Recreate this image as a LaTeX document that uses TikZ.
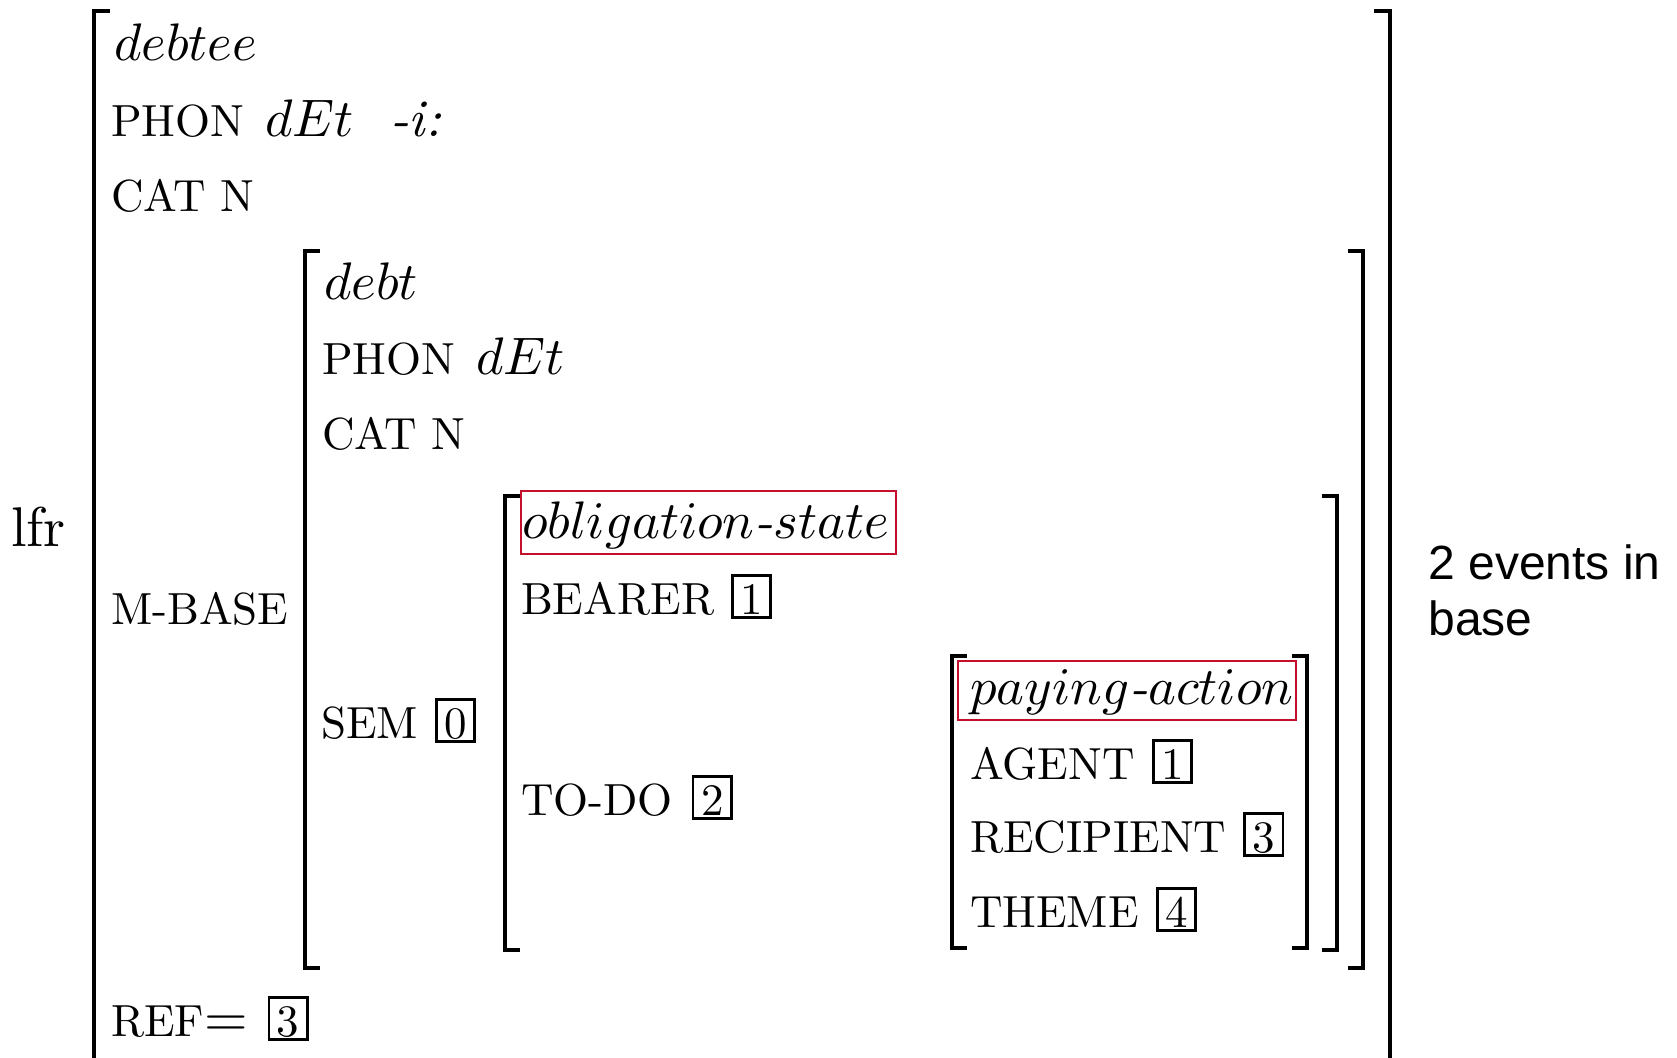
\documentclass[tikz,border=0pt]{standalone}
\usepackage{fontspec}
\usepackage{graphicx}
\newfontfamily\notefont{Liberation Sans}
\definecolor{boxred}{RGB}{196,16,44}
\newcommand\rmT[1]{\scalebox{2.25}{#1}}
\newcommand\itT[1]{\scalebox{2.64}{#1}}
\newcommand\tagb[1]{{\setlength\fboxrule{0.6pt}\setlength\fboxsep{0pt}\fbox{\kern1.45pt\rule[-0.55pt]{0pt}{8.75pt}#1\kern1.45pt}}}
\begin{document}
\begin{tikzpicture}[x=0.5pt,y=-0.5pt,
  txt/.style={anchor=base west,inner sep=0pt,outer sep=0pt},
  brk/.style={line width=1.8pt,line cap=butt,line join=miter},
  redbox/.style={draw=boxred,line width=1.4pt}]
\useasboundingbox (0,0) rectangle (1677,1057);
% brackets
\draw[brk] (110,11) -- (94,11) -- (94,1070);
\draw[brk] (1374,11) -- (1390,11) -- (1390,1070);
\draw[brk] (320,251) -- (305,251) -- (305,968) -- (320,968);
\draw[brk] (1348,251) -- (1363,251) -- (1363,968) -- (1348,968);
\draw[brk] (520,496) -- (505,496) -- (505,950) -- (520,950);
\draw[brk] (1322,496) -- (1337,496) -- (1337,950) -- (1322,950);
\draw[brk] (967,656) -- (952,656) -- (952,948) -- (967,948);
\draw[brk] (1292,656) -- (1307,656) -- (1307,948) -- (1292,948);
% red boxes
\draw[redbox] (521,491) rectangle (896,554);
\draw[redbox] (958,661) rectangle (1296,720);
% texts
\node[txt] (lfr) at (11,546) {\scalebox{2.8}{lfr}};
\node[txt] (debtee) at (114,60) {\itT{$debtee$}};
\node[txt] (phon1) at (111,136) {\rmT{PHON}};
\node[txt] (phon1v) at (265,136) {\itT{$dEt$}};
\node[txt] (phon1s) at (390,136) {\itT{\itshape -i:}};
\node[txt] (cat1) at (111,211) {\rmT{CAT N}};
\node[txt] (mbase) at (111,624) {\rmT{M-BASE}};
\node[txt] (ref) at (111,1036) {\rmT{REF}\scalebox{2.8}{$=$}\hspace{10pt}\rmT{\tagb{3}}};
\node[txt] (debt) at (324,299) {\itT{$debt$}};
\node[txt] (phon2) at (322,374) {\rmT{PHON}};
\node[txt] (phon2v) at (476,374) {\itT{$dEt$}};
\node[txt] (cat2) at (322,449) {\rmT{CAT N}};
\node[txt] (sem) at (321,738) {\rmT{SEM\hspace{3.8pt}\tagb{0}}};
\node[txt] (oblig) at (522,538) {\itT{$obligation$\textit{-}$state$}};
\node[txt] (bearer) at (521,614) {\rmT{BEARER\hspace{3.8pt}\tagb{1}}};
\node[txt] (todo) at (521,815) {\rmT{TO-DO\hspace{4.2pt}\tagb{2}}};
\node[txt] (paying) at (970,704) {\itT{$paying$\textit{-}$action$}};
\node[txt] (agent) at (970,779) {\rmT{AGENT\hspace{3.8pt}\tagb{1}}};
\node[txt] (recip) at (970,852) {\rmT{RECIPIENT\hspace{3.8pt}\tagb{3}}};
\node[txt] (theme) at (970,927) {\rmT{THEME\hspace{3.8pt}\tagb{4}}};
\node[anchor=base west,inner sep=0pt,align=left,font=\notefont\fontsize{24}{28}\selectfont] (note) at (1428,635) {2 events in\\base};
\end{tikzpicture}
\end{document}
